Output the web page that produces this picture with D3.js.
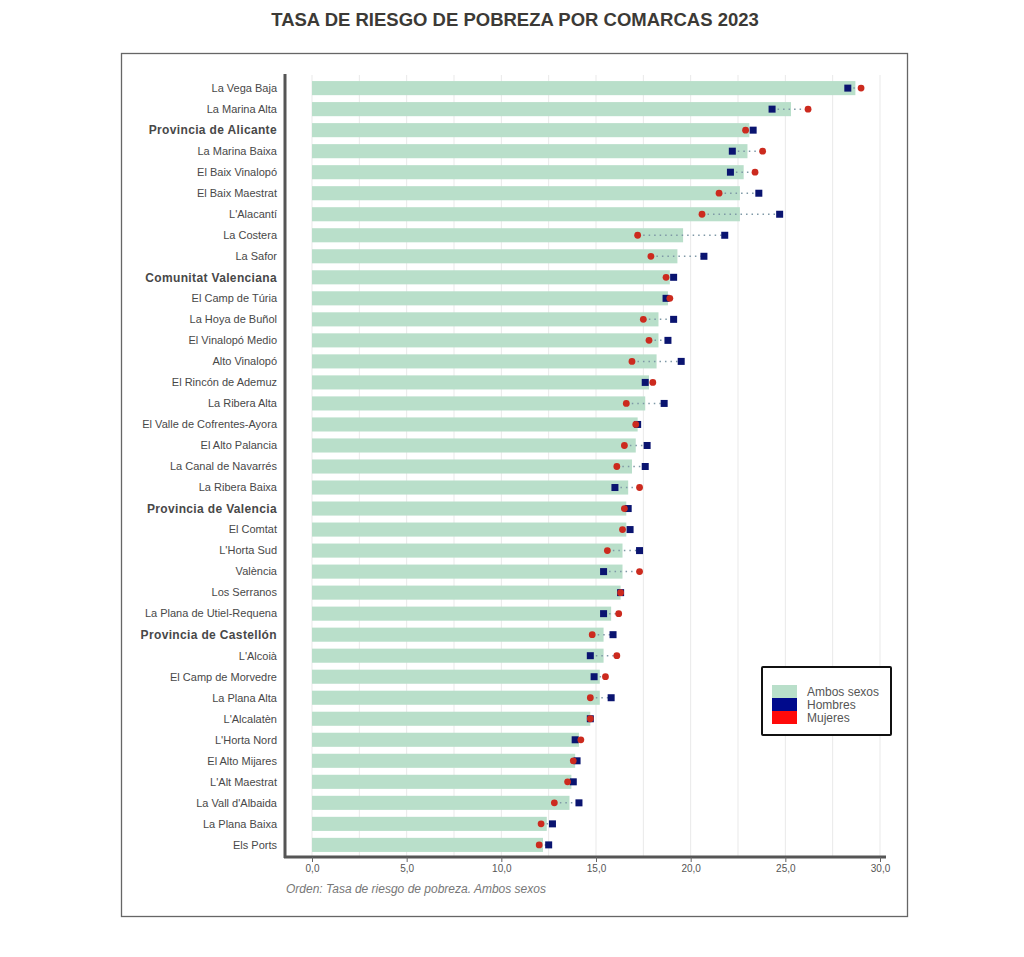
<!DOCTYPE html>
<html>
<head>
<meta charset="utf-8">
<script src="https://cdn.jsdelivr.net/npm/d3@7"></script>
<style>
  body { margin: 0; background: #fff; }
  svg { display: block; font-family: "Liberation Sans", Arial, sans-serif; }
</style>
</head>
<body>
<svg id="chart" width="1024" height="957"></svg>
<script>
// comarcas, ordenadas por "Ambos sexos"
const comarcas = [
  "La Vega Baja", "La Marina Alta", "Provincia de Alicante", "La Marina Baixa",
  "El Baix Vinalopó", "El Baix Maestrat", "L'Alacantí", "La Costera", "La Safor",
  "Comunitat Valenciana", "El Camp de Túria", "La Hoya de Buñol", "El Vinalopó Medio",
  "Alto Vinalopó", "El Rincón de Ademuz", "La Ribera Alta", "El Valle de Cofrentes-Ayora",
  "El Alto Palancia", "La Canal de Navarrés", "La Ribera Baixa", "Provincia de Valencia",
  "El Comtat", "L'Horta Sud", "València", "Los Serranos", "La Plana de Utiel-Requena",
  "Provincia de Castellón", "L'Alcoià", "El Camp de Morvedre", "La Plana Alta",
  "L'Alcalatèn", "L'Horta Nord", "El Alto Mijares", "L'Alt Maestrat",
  "La Vall d'Albaida", "La Plana Baixa", "Els Ports"
];
const ambos = [
  28.7, 25.3, 23.1, 23.0, 22.8, 22.6, 22.6, 19.6, 19.3,
  18.9, 18.8, 18.3, 18.3, 18.2, 17.8, 17.6, 17.2, 17.1, 16.9, 16.7,
  16.6, 16.6, 16.4, 16.4, 16.3, 15.8, 15.4, 15.4, 15.2, 15.2,
  14.7, 14.1, 13.9, 13.7, 13.6, 12.4, 12.2
];
const hombres = [
  28.3, 24.3, 23.3, 22.2, 22.1, 23.6, 24.7, 21.8, 20.7,
  19.1, 18.7, 19.1, 18.8, 19.5, 17.6, 18.6, 17.2, 17.7, 17.6, 16.0,
  16.7, 16.8, 17.3, 15.4, 16.3, 15.4, 15.9, 14.7, 14.9, 15.8,
  14.7, 13.9, 14.0, 13.8, 14.1, 12.7, 12.5
];
const mujeres = [
  29.0, 26.2, 22.9, 23.8, 23.4, 21.5, 20.6, 17.2, 17.9,
  18.7, 18.9, 17.5, 17.8, 16.9, 18.0, 16.6, 17.1, 16.5, 16.1, 17.3,
  16.5, 16.4, 15.6, 17.3, 16.3, 16.2, 14.8, 16.1, 15.5, 14.7,
  14.7, 14.2, 13.8, 13.5, 12.8, 12.1, 12.0
];
const destacados = ["Provincia de Alicante", "Comunitat Valenciana", "Provincia de Valencia", "Provincia de Castellón"];
const xTicks = [0, 5, 10, 15, 20, 25, 30];
const serieNombres = ["Ambos sexos", "Hombres", "Mujeres"];

const colAmbos = "#b9dfca", colHombres = "#0a1470", colMujeres = "#cc2a1e";

const data = comarcas.map((c, i) => ({ name: c, a: ambos[i], h: hombres[i], m: mujeres[i] }));

const svg = d3.select("#chart");

// titulo
svg.append("text")
  .attr("x", 515).attr("y", 26)
  .attr("text-anchor", "middle")
  .style("font-size", "18.5px").style("font-weight", "bold").style("fill", "#3c3a36")
  .text("TASA DE RIESGO DE POBREZA POR COMARCAS 2023");

// marco
svg.append("rect")
  .attr("x", 121.5).attr("y", 53.5).attr("width", 786).attr("height", 863)
  .attr("fill", "none").attr("stroke", "#666").attr("stroke-width", 1.3);

const x = d3.scaleLinear().domain([0, 30]).range([312, 880]);
const y = d3.scaleBand().domain(comarcas).range([77.5, 855.5]).paddingInner(0.33).paddingOuter(0.17);

// rejilla cada 2,5
svg.append("g")
  .selectAll("line")
  .data(d3.range(0, 30.01, 2.5))
  .join("line")
    .attr("x1", d => x(d)).attr("x2", d => x(d))
    .attr("y1", 75).attr("y2", 856)
    .attr("stroke", "#e9e9e9").attr("stroke-width", 1);

// barras ambos sexos
svg.append("g")
  .selectAll("rect")
  .data(data)
  .join("rect")
    .attr("x", x(0))
    .attr("y", d => y(d.name))
    .attr("width", d => x(d.a) - x(0))
    .attr("height", y.bandwidth())
    .attr("fill", colAmbos);

// linea punteada hombres-mujeres
svg.append("g")
  .selectAll("line")
  .data(data)
  .join("line")
    .attr("x1", d => x(Math.min(d.h, d.m)))
    .attr("x2", d => x(Math.max(d.h, d.m)))
    .attr("y1", d => y(d.name) + y.bandwidth() / 2)
    .attr("y2", d => y(d.name) + y.bandwidth() / 2)
    .attr("stroke", "#7e98a6").attr("stroke-width", 1.5)
    .attr("stroke-dasharray", "1.5,4");

// hombres: cuadrados
svg.append("g")
  .selectAll("rect")
  .data(data)
  .join("rect")
    .attr("x", d => x(d.h) - 3.5)
    .attr("y", d => y(d.name) + y.bandwidth() / 2 - 3.5)
    .attr("width", 7).attr("height", 7)
    .attr("fill", colHombres);

// mujeres: circulos
svg.append("g")
  .selectAll("circle")
  .data(data)
  .join("circle")
    .attr("cx", d => x(d.m))
    .attr("cy", d => y(d.name) + y.bandwidth() / 2)
    .attr("r", 3.4)
    .attr("fill", colMujeres);

// etiquetas eje Y
svg.append("g")
  .selectAll("text")
  .data(comarcas)
  .join("text")
    .attr("x", 277)
    .attr("y", d => y(d) + y.bandwidth() / 2)
    .attr("dy", "0.35em")
    .attr("text-anchor", "end")
    .style("font-size", d => destacados.includes(d) ? "12px" : "11px")
    .style("letter-spacing", d => destacados.includes(d) ? "0.35px" : "0px")
    .style("font-weight", d => destacados.includes(d) ? "bold" : "normal")
    .style("fill", "#484848")
    .text(d => d);

// ejes
svg.append("line")
  .attr("x1", 285).attr("x2", 285).attr("y1", 74).attr("y2", 858)
  .attr("stroke", "#555").attr("stroke-width", 3);
svg.append("line")
  .attr("x1", 284).attr("x2", 886).attr("y1", 857).attr("y2", 857)
  .attr("stroke", "#555").attr("stroke-width", 3);

const xAxis = svg.append("g")
  .attr("transform", "translate(0,857)")
  .call(d3.axisBottom(x).tickValues(xTicks).tickSize(5).tickPadding(3)
    .tickFormat(d => d3.format(".1f")(d).replace(".", ",")));
xAxis.select(".domain").remove();
xAxis.selectAll(".tick line").attr("stroke", "#666");
xAxis.selectAll(".tick text")
  .style("font-size", "10px").style("fill", "#555")
  .style("font-family", "'Liberation Sans', Arial, sans-serif");

// nota
svg.append("text")
  .attr("x", 286).attr("y", 893)
  .style("font-size", "12px").style("font-style", "italic").style("fill", "#777")
  .text("Orden: Tasa de riesgo de pobreza. Ambos sexos");

// leyenda
const leg = svg.append("g").attr("transform", "translate(762,667)");
leg.append("rect")
  .attr("width", 129).attr("height", 68)
  .attr("fill", "#fff").attr("stroke", "#111").attr("stroke-width", 2).attr("rx", 1);
const legColors = [colAmbos, "#000a8c", "#ff0a0a"];
serieNombres.forEach((n, i) => {
  leg.append("rect")
    .attr("x", 10).attr("y", 18 + i * 13)
    .attr("width", 25).attr("height", 13)
    .attr("fill", legColors[i]);
  leg.append("text")
    .attr("x", 45).attr("y", 25 + i * 13)
    .attr("dy", "0.35em")
    .style("font-size", "12px").style("fill", "#555")
    .text(n);
});
</script>
</body>
</html>
